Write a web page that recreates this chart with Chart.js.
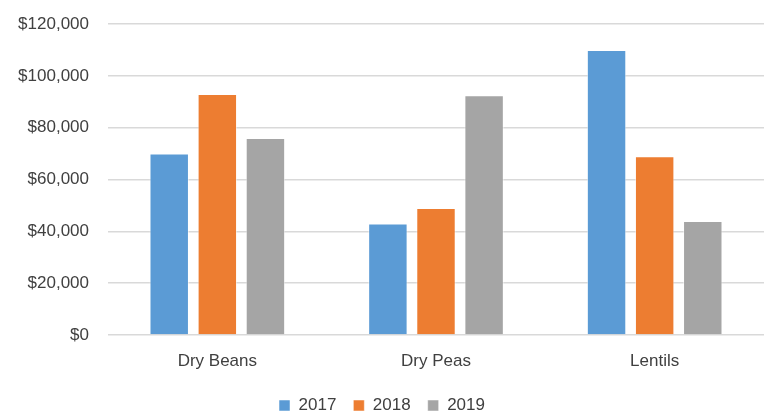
<!DOCTYPE html>
<html>
<head>
<meta charset="utf-8">
<script src="https://cdn.jsdelivr.net/npm/chart.js@4"></script>
<style>
  html, body { margin: 0; padding: 0; background: #fff; }
  #wrap { width: 765px; height: 414px; }
</style>
</head>
<body>
<div id="wrap"><canvas id="salesChart"></canvas></div>
<script>
// Sales by crop and year
const categories = ["Dry Beans", "Dry Peas", "Lentils"];
const years = ["2017", "2018", "2019"];
const sales2017 = [70000, 43000, 110000];
const sales2018 = [93000, 49000, 69000];
const sales2019 = [76000, 92500, 44000];
const colors = ["#5B9BD5", "#ED7D31", "#A5A5A5"];

Chart.defaults.font.family = "'Liberation Sans', Arial, sans-serif";
Chart.defaults.font.size = 17;
Chart.defaults.color = "#404040";

const ctx = document.getElementById("salesChart").getContext("2d");
new Chart(ctx, {
  type: "bar",
  data: {
    labels: categories,
    datasets: [sales2017, sales2018, sales2019].map(function (vals, i) {
      return {
        label: years[i],
        data: vals,
        backgroundColor: colors[i],
        borderColor: "rgba(255,255,255,0.5)",
        borderWidth: 1,
        categoryPercentage: 0.66,
        barPercentage: 0.82,
      };
    }),
  },
  options: {
    responsive: true,
    maintainAspectRatio: false,
    animation: false,
    layout: { padding: { top: 24, right: 1, left: 0, bottom: -10 } },
    plugins: {
      legend: {
        position: "bottom",
        labels: {
          boxWidth: 11,
          boxHeight: 11,
          padding: 17,
        },
      },
      tooltip: { enabled: false },
    },
    scales: {
      x: {
        grid: { display: false },
        border: { display: false },
        ticks: { padding: 8 },
        afterFit: function (scale) { scale.height = 45; },
      },
      y: {
        min: 0,
        max: 120000,
        ticks: {
          stepSize: 20000,
          padding: 19,
          callback: function (value) {
            return "$" + value.toLocaleString("en-US");
          },
        },
        grid: { color: "#d9d9d9", lineWidth: 1.5, drawTicks: false },
        border: { display: false },
        afterFit: function (scale) {
          scale.width = 108;
          scale.paddingTop = 0;
          scale.paddingBottom = 0;
        },
      },
    },
  },
});
</script>
</body>
</html>
